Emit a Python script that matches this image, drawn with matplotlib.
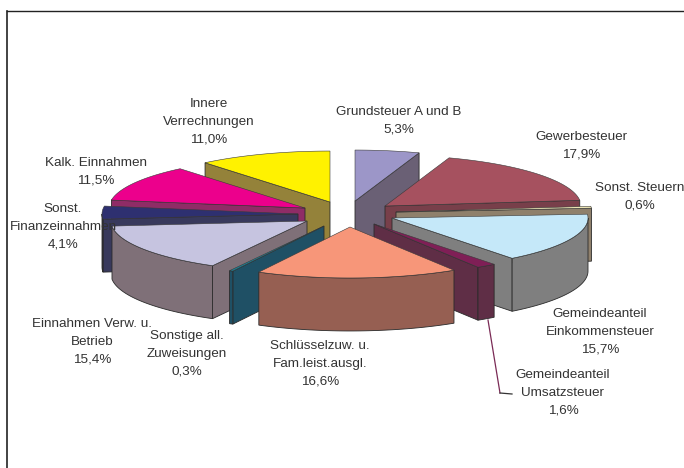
#!/usr/bin/env python3

import numpy as np
import matplotlib
matplotlib.use("Agg")
import matplotlib.pyplot as plt
from matplotlib.patches import Polygon

plt.rcParams["font.family"] = ["Liberation Sans", "DejaVu Sans"]

names = ["Grundsteuer A und B", "Gewerbesteuer", "Sonst. Steuern",
         "Gemeindeanteil\nEinkommensteuer", "Gemeindeanteil\nUmsatzsteuer",
         "Schlüsselzuw. u.\nFam.leist.ausgl.", "Sonstige all.\nZuweisungen",
         "Einnahmen Verw. u.\nBetrieb", "Sonst.\nFinanzeinnahmen",
         "Kalk. Einnahmen", "Innere\nVerrechnungen"]
shares = [5.3, 17.9, 0.6, 15.7, 1.6, 16.6, 0.3, 15.4, 4.1, 11.5, 11.0]

top_colors = ["#9c96c8", "#a6515f", "#ece4b4", "#c5e8f9", "#7f1f56", "#f79679",
              "#1b7f94", "#c6c4e0", "#2e3070", "#ec008c", "#fff200"]
side_colors = ["#6a6075", "#783f4a", "#8f806c", "#7f7f7f", "#5f2e46", "#965f52",
               "#1f5065", "#7f7078", "#38395c", "#8f2c66", "#94823a"]

# where each dragged-out slice has its tip, picture pixels
tips = [(355, 201), (385, 206), (396, 212), (392, 218), (374, 224), (350, 227),
        (324, 226), (307, 221), (298, 214), (305, 208), (330, 202)]
# label centre x and y of first line
label_pos = [(399, 112), (581, 137), (640, 188), (600, 314), (563, 375), (320, 346),
             (187, 336), (92, 324), (63, 209), (96, 163), (209, 104)]
paint_order = [10, 9, 8, 7, 0, 1, 2, 3, 4, 6, 5]

radius = 196
squash = 0.26
depth = 53

fig = plt.figure(figsize=(6.84, 4.68), dpi=100)
ax = fig.add_axes([0, 0, 1, 1])
ax.set_xlim(0, 684)
ax.set_ylim(468, 0)
ax.axis("off")


def rim(tip, a, b):
    t = np.radians(np.linspace(a, b, max(int(b - a) * 2, 2)))
    return np.column_stack([tip[0] + radius * np.sin(t), tip[1] - radius * squash * np.cos(t)])


def prism(pts, color, z):
    low = pts + [0, depth]
    ax.add_patch(Polygon(np.vstack([pts, low[::-1]]), closed=True, fc=color,
                         ec="#2a2a2a", lw=0.6, zorder=z))


edges = np.cumsum([0] + shares) * 3.6
for n, i in enumerate(paint_order):
    a, b = edges[i], edges[i + 1]
    tip = np.array(tips[i], dtype=float)
    arc = rim(tip, a, b)
    z = 2 + n
    # only the cut faces turned to the viewer
    if a > 180:
        prism(np.vstack([tip, arc[0]]), side_colors[i], z)
    if b < 180:
        prism(np.vstack([tip, arc[-1]]), side_colors[i], z)
    lo, hi = max(a, 90), min(b, 270)
    if hi > lo:
        prism(rim(tip, lo, hi), side_colors[i], z)
    ax.add_patch(Polygon(np.vstack([tip, arc]), closed=True, fc=top_colors[i],
                         ec="#3a3a3a", lw=0.4, zorder=z))

for name, share, (x, y) in zip(names, shares, label_pos):
    txt = name + "\n" + f"{share:.1f}%".replace(".", ",")
    ax.text(x, y - 6, txt, ha="center", va="top", fontsize=9.7, color="#333333",
            linespacing=1.62, zorder=30)

# leader for the Umsatzsteuer label
ax.plot([488, 500], [320, 393], color="#7a2a55", lw=0.9, zorder=20)
ax.plot([500, 512], [393, 394], color="#333333", lw=0.9, zorder=20)

# chart frame
ax.plot([6.5, 6.5], [468, 10.5], color="#222222", lw=1.2, zorder=1)
ax.plot([6.5, 684], [10.5, 10.5], color="#222222", lw=1.0, zorder=1)

fig.savefig("out.png", dpi=100)
